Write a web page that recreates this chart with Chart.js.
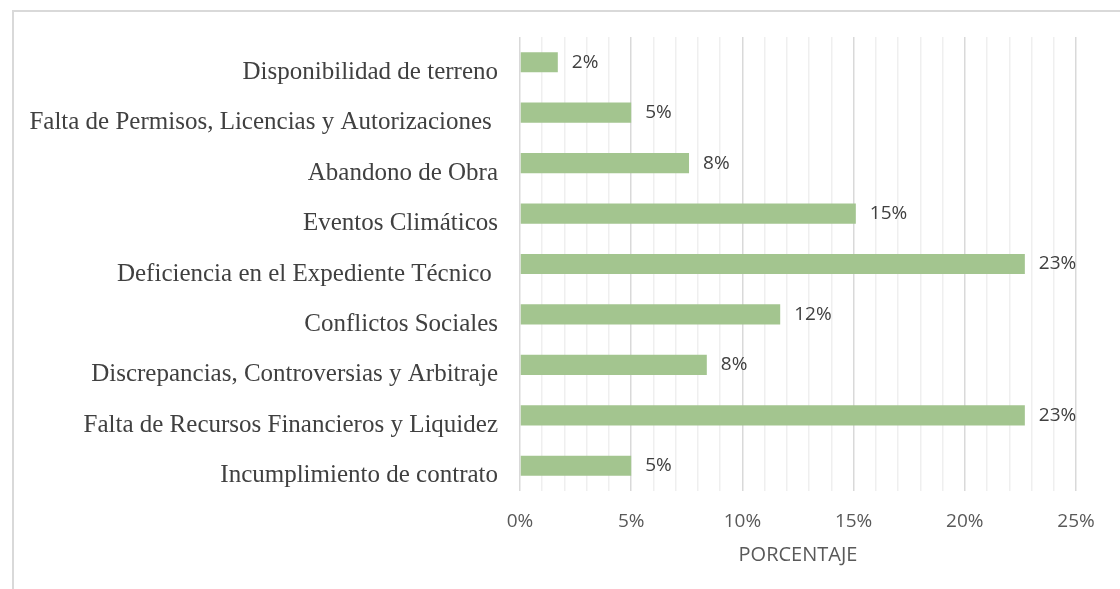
<!DOCTYPE html>
<html>
<head>
<meta charset="utf-8">
<script src="https://cdn.jsdelivr.net/npm/chart.js@4"></script>
<style>
  html, body { margin: 0; padding: 0; background: #fff; overflow: hidden; }
  #wrap { position: relative; width: 1120px; height: 589px; }
  #frame { position: absolute; left: 12px; top: 10px; width: 1200px; height: 700px;
           border-left: 2px solid #d9d9d9; border-top: 2px solid #d9d9d9; box-sizing: border-box; }
  canvas { position: absolute; left: 0; top: 0; }
</style>
</head>
<body>
<div id="wrap">
  <div id="frame"></div>
  <canvas id="chart" width="1120" height="589"></canvas>
</div>
<script>
// categories, top to bottom
var causas = [
  'Disponibilidad de terreno',
  'Falta de Permisos, Licencias y Autorizaciones ',
  'Abandono de Obra',
  'Eventos Climáticos',
  'Deficiencia en el Expediente Técnico ',
  'Conflictos Sociales',
  'Discrepancias, Controversias y Arbitraje',
  'Falta de Recursos Financieros y Liquidez',
  'Incumplimiento de contrato'
];
// percentages
var porcentajes = [1.7, 5.0, 7.6, 15.1, 22.7, 11.7, 8.4, 22.7, 5.0];
var ejeMin = 0;
var ejeMax = 25;

var sans = '"Open Sans", "Liberation Sans", sans-serif';

// labels at the end of each bar
var etiquetas = {
  id: 'etiquetas',
  afterDatasetsDraw: function(chart) {
    var ctx = chart.ctx;
    var meta = chart.getDatasetMeta(0);
    ctx.save();
    ctx.font = '19px ' + sans;
    ctx.fillStyle = '#404040';
    ctx.textAlign = 'left';
    ctx.textBaseline = 'middle';
    meta.data.forEach(function(bar, i) {
      ctx.fillText(Math.round(porcentajes[i]) + '%', bar.x + 14, bar.y);
    });
    ctx.restore();
  }
};

new Chart(document.getElementById('chart'), {
  type: 'bar',
  data: {
    labels: causas,
    datasets: [{
      data: porcentajes,
      backgroundColor: '#a3c58f',
      borderWidth: 0,
      barPercentage: 0.4,
      categoryPercentage: 1
    }]
  },
  plugins: [etiquetas],
  options: {
    indexAxis: 'y',
    responsive: false,
    animation: false,
    layout: { padding: { top: 36, right: 44, left: 0, bottom: 0 } },
    plugins: { legend: { display: false }, tooltip: { enabled: false } },
    scales: {
      x: {
        min: ejeMin,
        max: ejeMax,
        border: { display: false },
        afterFit: function(s) { s.height = 98; },
        grid: {
          drawTicks: false,
          lineWidth: 1.5,
          color: function(c) { return c.tick && c.tick.value % 5 === 0 ? '#d9d9d9' : '#efefef'; }
        },
        ticks: {
          stepSize: 1,
          autoSkip: false,
          maxRotation: 0,
          padding: 19,
          color: '#595959',
          font: { family: sans, size: 19 },
          callback: function(v) { return v % 5 === 0 ? v + '%' : ''; }
        },
        title: {
          display: true,
          text: 'PORCENTAJE',
          color: '#595959',
          padding: { top: 0, bottom: 22 },
          font: { family: sans, size: 20 }
        }
      },
      y: {
        border: { display: false },
        grid: { display: false, drawTicks: false },
        afterFit: function(s) { s.width = 520; },
        ticks: {
          padding: 22,
          labelOffset: 10,
          color: '#404040',
          font: { family: '"Liberation Serif", "Times New Roman", serif', size: 25 }
        }
      }
    }
  }
});
</script>
</body>
</html>
